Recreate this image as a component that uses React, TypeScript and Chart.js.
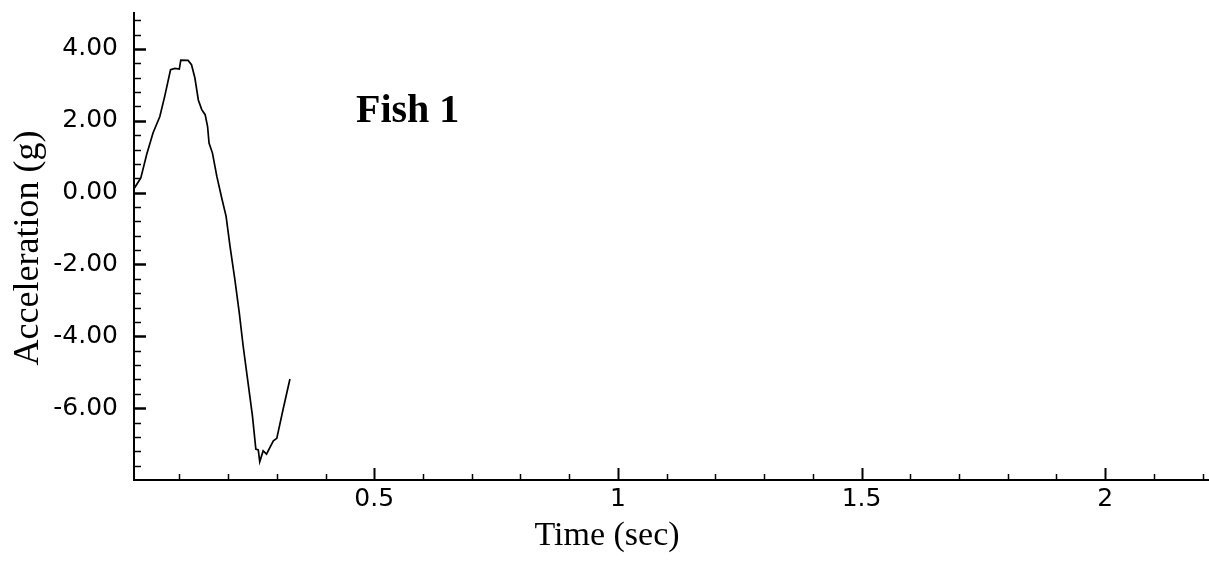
import React, { useEffect, useRef } from 'react';
import { Chart, registerables } from 'chart.js';

Chart.register(...registerables);

// Sampled acceleration trace for Fish 1
const timeSec = [
  0.008, 0.021, 0.033, 0.046, 0.06, 0.07, 0.082, 0.091, 0.1, 0.103, 0.118, 0.125,
  0.132, 0.139, 0.146, 0.153, 0.158, 0.161, 0.168, 0.177, 0.187, 0.196, 0.204,
  0.214, 0.223, 0.231, 0.241, 0.25, 0.257, 0.262, 0.265, 0.272, 0.279, 0.286,
  0.293, 0.3, 0.313, 0.327,
];
const accelG = [
  0.13, 0.41, 1.06, 1.66, 2.12, 2.68, 3.42, 3.46, 3.44, 3.69, 3.68, 3.56,
  3.19, 2.58, 2.31, 2.17, 1.84, 1.38, 1.1, 0.45, -0.15, -0.66, -1.49,
  -2.42, -3.34, -4.27, -5.29, -6.21, -7.14, -7.16, -7.49, -7.19, -7.28, -7.09,
  -6.91, -6.84, -6.03, -5.19,
];

// Axis ticks
const xMajorTicks = [0.5, 1, 1.5, 2];
const xMinorTicks = [
  0.1, 0.2, 0.3, 0.4, 0.6, 0.7, 0.8, 0.9, 1.1, 1.2, 1.3, 1.4, 1.6, 1.7, 1.8, 1.9, 2.1, 2.2,
];
const yMajorTicks = [-6, -4, -2, 0, 2, 4];
const yMinorTicks = [
  -7.6, -7.2, -6.8, -6.4, -5.6, -5.2, -4.8, -4.4, -3.6, -3.2, -2.8, -2.4, -1.6, -1.2,
  -0.8, -0.4, 0.4, 0.8, 1.2, 1.6, 2.4, 2.8, 3.2, 3.6, 4.4, 4.8,
];

const chartTitle = 'Fish 1';
const xTitle = 'Time (sec)';
const yTitle = 'Acceleration (g)';

const SERIF = '"Liberation Serif", "Times New Roman", serif';
const SANS = '"DejaVu Sans", "Liberation Sans", Arial, sans-serif';

// Inward tick marks plus the text labels placed on the canvas
const framePlugin = {
  id: 'frameDecor',
  afterDraw(chart: any) {
    const { ctx, chartArea, scales } = chart;
    const x = scales.x;
    const y = scales.y;
    ctx.save();
    ctx.strokeStyle = '#000';
    const hTick = (v: number, len: number, w: number) => {
      const py = Math.round(y.getPixelForValue(v)) + 0.5;
      ctx.lineWidth = w;
      ctx.beginPath();
      ctx.moveTo(chartArea.left, py);
      ctx.lineTo(chartArea.left + len, py);
      ctx.stroke();
    };
    const vTick = (v: number, len: number, w: number) => {
      const px = Math.round(x.getPixelForValue(v)) + 0.5;
      ctx.lineWidth = w;
      ctx.beginPath();
      ctx.moveTo(px, chartArea.bottom);
      ctx.lineTo(px, chartArea.bottom - len);
      ctx.stroke();
    };
    yMajorTicks.forEach((v) => hTick(v, 12, 2.5));
    yMinorTicks.forEach((v) => hTick(v, 7, 1.5));
    xMajorTicks.forEach((v) => vTick(v, 12, 2));
    xMinorTicks.forEach((v) => vTick(v, 6, 1.5));

    ctx.fillStyle = '#000';
    // Panel label
    ctx.font = `bold 40px ${SERIF}`;
    ctx.textAlign = 'left';
    ctx.textBaseline = 'alphabetic';
    ctx.fillText(chartTitle, 356, 122);

    // X axis title
    ctx.font = `34px ${SERIF}`;
    ctx.textAlign = 'center';
    ctx.fillText(xTitle, 607, 545);

    // Y axis title
    ctx.translate(38, 248);
    ctx.rotate(-Math.PI / 2);
    ctx.font = `36px ${SERIF}`;
    ctx.textAlign = 'center';
    ctx.fillText(yTitle, 0, 0);
    ctx.restore();
  },
};

export default function App() {
  const canvasRef = useRef<HTMLCanvasElement | null>(null);

  useEffect(() => {
    if (!canvasRef.current) return;
    const points = timeSec.map((t, i) => ({ x: t, y: accelG[i] }));
    const chart = new Chart(canvasRef.current, {
      type: 'line',
      data: {
        datasets: [
          {
            data: points,
            borderColor: '#000',
            borderWidth: 1.7,
            pointRadius: 0,
            tension: 0,
            fill: false,
          },
        ],
      },
      options: {
        responsive: false,
        animation: false,
        layout: { padding: { top: 13, right: 0, bottom: 0, left: 0 } },
        plugins: {
          legend: { display: false },
          tooltip: { enabled: false },
          title: { display: false },
        },
        scales: {
          x: {
            type: 'linear',
            min: 0.007,
            max: 2.213,
            grid: { display: false, drawTicks: false },
            border: { display: true, color: '#000', width: 2 },
            afterBuildTicks: (scale: any) => {
              scale.ticks = xMajorTicks.map((v) => ({ value: v }));
            },
            afterFit: (scale: any) => {
              scale.height = 81;
              scale.paddingLeft = 0;
              scale.paddingRight = 0;
            },
            ticks: {
              color: '#000',
              padding: 4,
              maxRotation: 0,
              autoSkip: false,
              font: { family: SANS, size: 25 },
              callback: (v: any) => String(v),
            },
          },
          y: {
            type: 'linear',
            min: -8,
            max: 5,
            grid: { display: false, drawTicks: false },
            border: { display: true, color: '#000', width: 2 },
            afterBuildTicks: (scale: any) => {
              scale.ticks = yMajorTicks.map((v) => ({ value: v }));
            },
            afterFit: (scale: any) => {
              scale.width = 134;
              scale.paddingTop = 0;
              scale.paddingBottom = 0;
            },
            ticks: {
              color: '#000',
              padding: 16,
              autoSkip: false,
              font: { family: SANS, size: 25 },
              callback: (v: any) => Number(v).toFixed(2),
            },
          },
        },
      },
      plugins: [framePlugin],
    });
    return () => chart.destroy();
  }, []);

  return (
    <div style={{ position: 'absolute', left: 0, top: 0, width: 1209, height: 561, background: '#fff' }}>
      <canvas ref={canvasRef} width={1209} height={561} />
    </div>
  );
}
